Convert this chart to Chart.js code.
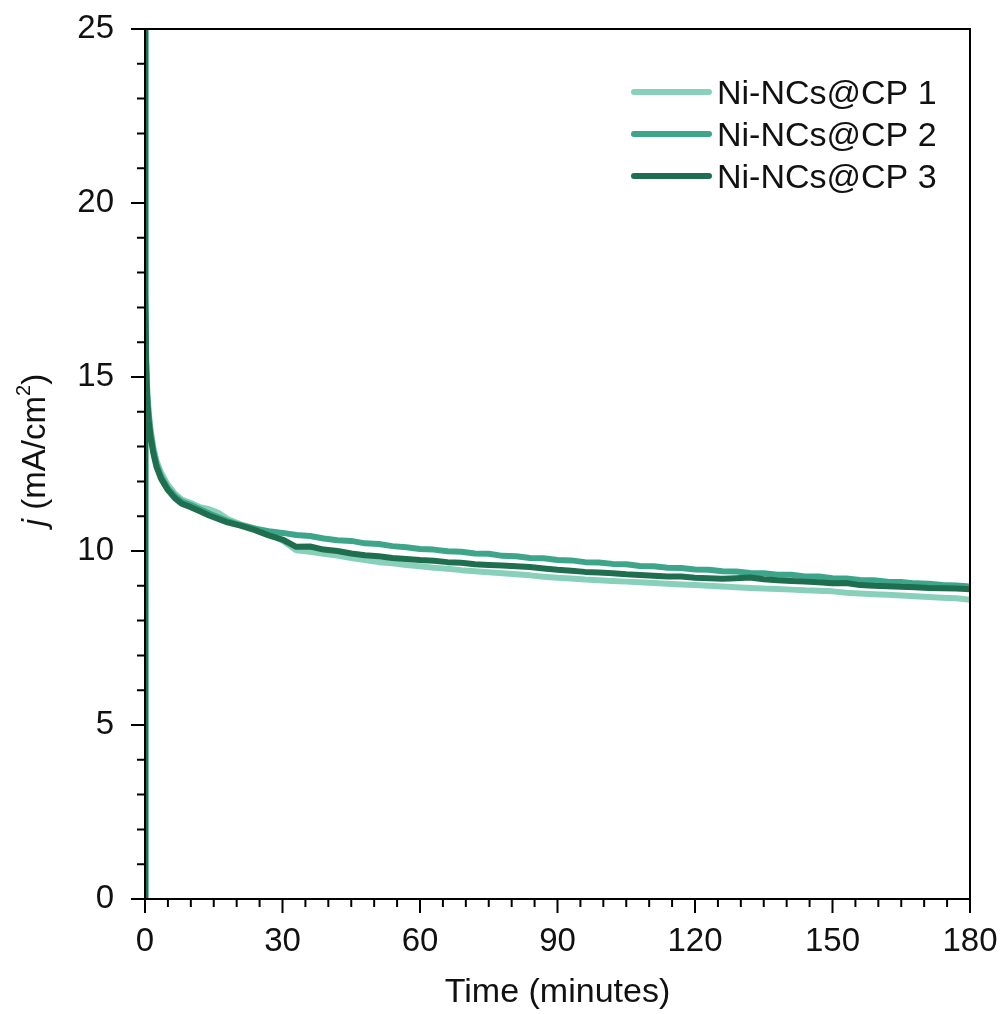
<!DOCTYPE html>
<html>
<head>
<meta charset="utf-8">
<script src="https://cdn.jsdelivr.net/npm/chart.js@4/dist/chart.umd.min.js"></script>
<style>
  html, body { margin: 0; padding: 0; background: #fff; overflow: hidden; }
  #wrap { width: 1005px; height: 1014px; }
</style>
</head>
<body>
<div id="wrap"><canvas id="chart"></canvas></div>
<script>
// tiempos (minutos)
const tiempos = [0, 0.02, 0.1, 0.25, 0.5, 0.8, 1.2, 1.8, 2.5, 3.5, 5, 6.5, 8, 10, 12, 14, 16, 18,
  21, 24, 27, 30, 33, 36, 39, 42, 45, 48, 51, 54, 57, 60, 63, 66, 69, 72, 75, 78, 81, 84, 87, 90,
  93, 96, 99, 102, 105, 108, 111, 114, 117, 120, 123, 126, 129, 132, 135, 138, 141, 144, 147, 150,
  153, 156, 159, 162, 165, 168, 171, 174, 177, 180];

// densidad de corriente j (mA/cm2)
const serie1 = [0, 25, 17.6, 15.6, 14.6, 14.0, 13.5, 13.0, 12.6, 12.25, 11.9, 11.65, 11.48, 11.38, 11.26, 11.2, 11.1, 10.92,
  10.76, 10.65, 10.5, 10.3, 10.02, 9.98, 9.92, 9.87, 9.8, 9.74, 9.68, 9.65, 9.6, 9.56, 9.52, 9.49, 9.45, 9.42, 9.39, 9.36, 9.33, 9.3, 9.26, 9.23,
  9.21, 9.18, 9.16, 9.14, 9.12, 9.1, 9.08, 9.06, 9.04, 9.02, 9.0, 8.98, 8.96, 8.94, 8.92, 8.91, 8.89, 8.87, 8.86, 8.84,
  8.8, 8.78, 8.76, 8.74, 8.72, 8.7, 8.68, 8.66, 8.64, 8.6];
const serie2 = [0, 25, 17.4, 15.4, 14.45, 13.9, 13.4, 12.9, 12.5, 12.15, 11.8, 11.58, 11.42, 11.32, 11.2, 11.08, 10.97, 10.86,
  10.74, 10.64, 10.57, 10.52, 10.46, 10.43, 10.36, 10.31, 10.29, 10.22, 10.2, 10.14, 10.11, 10.06, 10.04, 9.99, 9.98, 9.93, 9.92, 9.86, 9.85, 9.8, 9.79, 9.74,
  9.73, 9.68, 9.67, 9.63, 9.62, 9.57, 9.56, 9.52, 9.51, 9.47, 9.46, 9.42, 9.41, 9.37, 9.36, 9.32, 9.32, 9.27, 9.27, 9.22,
  9.21, 9.17, 9.16, 9.12, 9.11, 9.07, 9.06, 9.02, 9.01, 8.98];
const serie3 = [0, 25, 17.2, 15.2, 14.3, 13.75, 13.3, 12.82, 12.42, 12.08, 11.75, 11.52, 11.36, 11.26, 11.14, 11.02, 10.92, 10.82,
  10.72, 10.6, 10.45, 10.33, 10.12, 10.13, 10.04, 10.0, 9.93, 9.88, 9.85, 9.8, 9.77, 9.74, 9.72, 9.68, 9.66, 9.62, 9.6, 9.58, 9.56, 9.54, 9.5, 9.46,
  9.43, 9.4, 9.38, 9.36, 9.33, 9.31, 9.29, 9.27, 9.27, 9.23, 9.22, 9.2, 9.22, 9.24, 9.19, 9.16, 9.14, 9.12, 9.1, 9.07,
  9.08, 9.02, 9.0, 8.99, 8.97, 8.96, 8.94, 8.93, 8.92, 8.9];

const etiquetas = ['Ni-NCs@CP 1', 'Ni-NCs@CP 2', 'Ni-NCs@CP 3'];
const colores = ['#88d0ba', '#3da68a', '#1f6e4f'];
const series = [serie1, serie2, serie3];

const FUENTE = '"Liberation Sans", Arial, sans-serif';

const puntos = s => tiempos.map((t, i) => ({ x: t, y: s[i] }));

// Marco, ticks menores, leyenda y titulos de ejes
const extras = {
  id: 'extras',
  afterDraw(chart) {
    const ctx = chart.ctx;
    const a = chart.chartArea;
    const xs = chart.scales.x, ys = chart.scales.y;
    ctx.save();
    ctx.strokeStyle = '#000';
    ctx.lineWidth = 2;
    ctx.strokeRect(a.left, a.top, a.right - a.left, a.bottom - a.top);
    ctx.beginPath();
    for (let v = 0; v <= 180; v += 5) {
      const px = xs.getPixelForValue(v);
      const len = v % 30 === 0 ? 14 : 8;
      ctx.moveTo(px, a.bottom);
      ctx.lineTo(px, a.bottom + len);
    }
    for (let v = 0; v <= 25; v += 1) {
      const py = ys.getPixelForValue(v);
      const len = v % 5 === 0 ? 14 : 8;
      ctx.moveTo(a.left, py);
      ctx.lineTo(a.left - len, py);
    }
    ctx.stroke();

    // leyenda
    ctx.font = '34px ' + FUENTE;
    ctx.fillStyle = '#111';
    ctx.textBaseline = 'alphabetic';
    ctx.textAlign = 'left';
    ctx.lineCap = 'round';
    etiquetas.forEach((lab, i) => {
      const y = 92 + i * 42;
      ctx.strokeStyle = colores[i];
      ctx.lineWidth = 6;
      ctx.beginPath();
      ctx.moveTo(634, y);
      ctx.lineTo(709, y);
      ctx.stroke();
      ctx.fillText(lab, 717, y + 12);
    });

    // titulo eje x
    ctx.textAlign = 'center';
    ctx.font = '34px ' + FUENTE;
    ctx.fillText('Time (minutes)', (a.left + a.right) / 2, 1002);

    // titulo eje y
    ctx.translate(45, 450);
    ctx.rotate(-Math.PI / 2);
    const partes = [
      { t: 'j', f: 'italic 33px ' + FUENTE, dy: 0 },
      { t: ' (mA/cm', f: '33px ' + FUENTE, dy: 0 },
      { t: '2', f: '20px ' + FUENTE, dy: -15 },
      { t: ')', f: '33px ' + FUENTE, dy: 0 }
    ];
    let total = 0;
    partes.forEach(p => { ctx.font = p.f; total += ctx.measureText(p.t).width; });
    let x = -total / 2;
    ctx.textAlign = 'left';
    partes.forEach(p => {
      ctx.font = p.f;
      ctx.fillText(p.t, x, p.dy);
      x += ctx.measureText(p.t).width;
    });
    ctx.restore();
  }
};

const ctxJ = document.getElementById('chart').getContext('2d');
new Chart(ctxJ, {
  type: 'line',
  data: {
    datasets: series.map((s, i) => ({
      label: etiquetas[i],
      data: puntos(s),
      borderColor: colores[i],
      backgroundColor: colores[i],
      borderWidth: 6,
      pointRadius: 0,
      tension: 0,
      borderJoinStyle: 'round',
      borderCapStyle: 'round',
      order: 3 - i
    }))
  },
  options: {
    responsive: true,
    maintainAspectRatio: false,
    animation: false,
    layout: { padding: { left: 0, top: 29, right: 35, bottom: 0 } },
    plugins: {
      legend: { display: false },
      tooltip: { enabled: false }
    },
    scales: {
      x: {
        type: 'linear',
        min: 0,
        max: 180,
        grid: { display: false },
        border: { display: false },
        ticks: {
          stepSize: 30,
          padding: 15,
          color: '#111',
          font: { family: FUENTE, size: 33 },
          maxRotation: 0
        },
        afterFit(scale) {
          scale.height = 115;
          scale.paddingLeft = 0;
          scale.paddingRight = 0;
        }
      },
      y: {
        min: 0,
        max: 25,
        grid: { display: false },
        border: { display: false },
        ticks: {
          stepSize: 5,
          padding: 23,
          color: '#111',
          font: { family: FUENTE, size: 33 }
        },
        afterFit(scale) {
          scale.width = 145;
          scale.paddingTop = 0;
          scale.paddingBottom = 0;
        }
      }
    }
  },
  plugins: [extras]
});
</script>
</body>
</html>
